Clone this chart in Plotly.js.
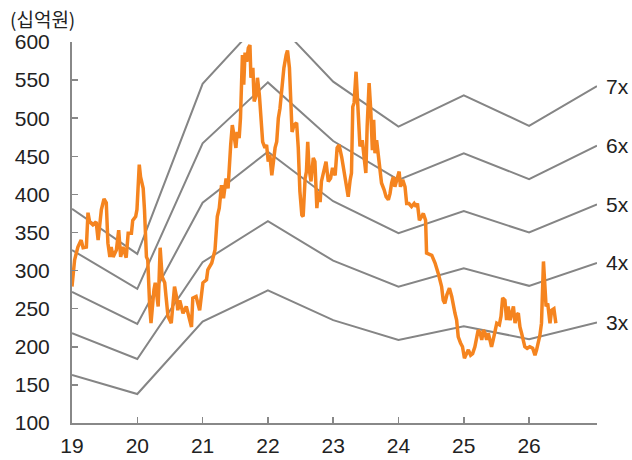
<!DOCTYPE html>
<html>
<head>
<meta charset="utf-8">
<script src="https://cdn.plot.ly/plotly-3.0.1.min.js"></script>
<style>html,body{margin:0;padding:0;background:#fff;}#chart{width:632px;height:460px;}</style>
</head>
<body>
<div id="chart"></div>
<script>
// PER band knots (year positions)
var bandX = [19, 20, 21, 22, 23, 24, 25, 26, 27.04];
var band3x = [163, 138, 233, 274, 235, 209, 227, 210, 232];
var band4x = [218, 184, 311, 365, 313, 279, 303, 280, 310];
var band5x = [272, 230, 389, 456, 391, 349, 378, 350, 387];
var band6x = [327, 276, 467, 547, 470, 419, 454, 420, 464];
var band7x = [381, 322, 545, 638, 548, 489, 530, 490, 542];
var bandLabels = ["3x", "4x", "5x", "6x", "7x"];

// Market cap (십억원)
var capX = [19.00,19.04,19.09,19.14,19.17,19.22,19.245,19.27,19.32,19.37,19.40,19.42,19.45,19.49,19.525,19.55,19.58,19.60,19.63,19.68,19.715,19.745,19.78,19.83,19.86,19.91,19.93,19.975,19.995,
20.03,20.05,20.09,20.11,20.14,20.16,20.19,20.21,20.255,20.275,20.32,20.35,20.38,20.42,20.44,20.47,20.52,20.57,20.60,20.62,20.65,20.70,20.75,20.80,20.83,20.85,20.90,20.955,
21.005,21.06,21.08,21.14,21.19,21.225,21.255,21.29,21.32,21.36,21.39,21.43,21.455,21.48,21.51,21.53,21.56,21.58,21.61,21.63,21.65,21.675,21.70,21.725,21.74,21.77,21.79,21.82,21.84,21.87,21.895,21.92,21.955,21.98,
22.005,22.03,22.06,22.08,22.11,22.135,22.16,22.185,22.21,22.245,22.28,22.30,22.33,22.35,22.37,22.40,22.44,22.465,22.49,22.52,22.54,22.57,22.59,22.61,22.63,22.66,22.695,22.72,22.75,22.77,22.80,22.82,22.86,22.89,22.925,22.96,22.99,
23.03,23.06,23.09,23.13,23.155,23.195,23.23,23.26,23.28,23.30,23.32,23.35,23.37,23.385,23.41,23.445,23.475,23.50,23.52,23.55,23.575,23.60,23.62,23.64,23.665,23.69,23.715,23.74,23.78,23.81,23.845,23.87,23.895,23.92,23.945,23.97,
24.01,24.03,24.065,24.10,24.125,24.16,24.20,24.24,24.27,24.29,24.32,24.355,24.38,24.415,24.43,24.51,24.56,24.61,24.635,24.66,24.685,24.71,24.74,24.78,24.815,24.84,24.865,24.89,24.915,24.95,24.98,
25.01,25.045,25.07,25.105,25.135,25.17,25.20,25.22,25.25,25.275,25.30,25.325,25.35,25.375,25.40,25.425,25.45,25.48,25.505,25.545,25.57,25.595,25.63,25.655,25.68,25.71,25.73,25.76,25.785,25.81,25.835,25.86,25.885,25.91,25.935,25.97,
26.01,26.055,26.09,26.115,26.14,26.165,26.19,26.22,26.24,26.26,26.285,26.32,26.345,26.38,26.41];
var capY = [279,314,331,340,330,331,376,364,360,364,340,356,380,394,389,336,318,331,318,327,353,318,331,317,349,349,366,371,380,
439,423,408,380,318,314,253,231,275,284,253,330,292,284,266,240,231,279,266,248,261,244,253,235,226,264,266,248,
284,288,301,310,327,371,382,412,395,421,408,465,491,478,461,482,474,500,583,544,586,574,592,596,553,566,522,530,553,530,500,469,461,465,
443,452,425,443,461,469,500,513,540,566,583,589,566,530,482,491,494,461,404,373,371,421,430,469,435,417,448,443,382,404,390,417,430,443,417,421,435,
425,461,465,449,436,410,397,419,428,515,520,561,520,489,463,471,445,428,489,546,511,458,498,454,471,454,436,415,406,397,393,401,415,423,410,419,
430,410,419,410,388,388,384,388,384,388,366,371,375,366,323,320,310,296,288,279,261,257,268,277,266,253,244,235,213,205,200,
185,191,196,189,191,200,213,222,218,209,222,218,209,218,209,200,209,222,231,229,240,264,261,235,253,235,244,253,231,242,244,226,218,209,200,198,
200,198,189,196,205,215,231,312,283,253,257,231,248,250,231];

var xTicks = [19, 20, 21, 22, 23, 24, 25, 26];
var xTickText = ["19", "20", "21", "22", "23", "24", "25", "26"];
var yTicks = [100, 150, 200, 250, 300, 350, 400, 450, 500, 550, 600];
var unitLabel = "(십억원)";

var numFont = "Liberation Sans, Arial, sans-serif";
var gray = "#858585";
var bands = [band3x, band4x, band5x, band6x, band7x];
var traces = bands.map(function (b, i) {
  return {x: bandX, y: b, type: "scatter", mode: "lines", name: bandLabels[i],
          line: {color: gray, width: 2}, hoverinfo: "skip"};
});
traces.push({x: capX, y: capY, type: "scatter", mode: "lines", name: "시가총액",
             line: {color: "#F5841F", width: 3.5}});

var annotations = bands.map(function (b, i) {
  return {x: bandX[bandX.length - 1], y: b[b.length - 1], xref: "x", yref: "y",
          text: bandLabels[i], showarrow: false, xanchor: "left", yanchor: "middle",
          xshift: 7, font: {family: numFont, size: 21, color: "#222"}};
});
annotations.push({x: 0, y: 1, xref: "paper", yref: "paper", text: unitLabel, showarrow: false,
  xanchor: "right", yanchor: "middle", xshift: 5, yshift: 24,
  font: {family: "Noto Sans CJK KR, sans-serif", size: 19, color: "#222"}});

var layout = {
  width: 632, height: 460,
  margin: {l: 72, r: 35, t: 42, b: 37},
  paper_bgcolor: "#fff", plot_bgcolor: "#fff",
  showlegend: false,
  font: {family: numFont, size: 21, color: "#222"},
  xaxis: {range: [19, 27.04], tickvals: xTicks, ticktext: xTickText, showgrid: false, zeroline: false,
          showline: true, linecolor: "#888", linewidth: 2, ticks: "inside", ticklen: 6, tickcolor: "#888", tickwidth: 1.5,
          ticklabelstandoff: 3},
  yaxis: {range: [100, 600], tickvals: yTicks, showgrid: false, zeroline: false,
          showline: true, linecolor: "#888", linewidth: 2, ticks: "inside", ticklen: 6, tickcolor: "#888", tickwidth: 1.5,
          ticklabelstandoff: 16},
  annotations: annotations
};
Plotly.newPlot("chart", traces, layout, {displayModeBar: false, staticPlot: true});
</script>
</body>
</html>
